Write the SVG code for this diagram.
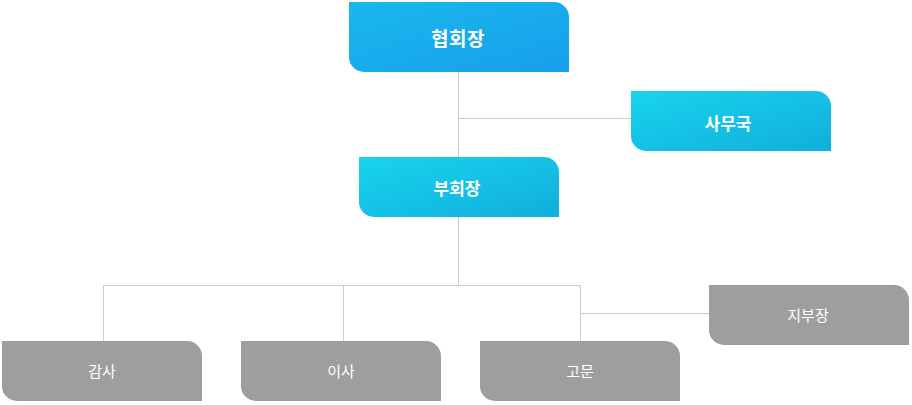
<svg xmlns="http://www.w3.org/2000/svg" width="912" height="405" viewBox="0 0 912 405">
<defs>
<linearGradient id="gA" x1="0" y1="0" x2="1" y2="1">
<stop offset="0" stop-color="#19b8ec"/>
<stop offset="1" stop-color="#179fec"/>
</linearGradient>
<linearGradient id="gB" x1="0" y1="0" x2="1" y2="1">
<stop offset="0" stop-color="#18d4ee"/>
<stop offset="1" stop-color="#11aedb"/>
</linearGradient>
<style>
.t{font-family:"Noto Sans CJK KR","Noto Sans",sans-serif;fill:#fff;text-anchor:middle;dominant-baseline:central}
.a{font-size:19px;font-weight:bold;letter-spacing:0.5px}
.b{font-size:17px;font-weight:bold}
.n{font-size:15px;font-weight:400}
.g{fill:#9e9e9e}
.c{stroke:#cccccc;stroke-width:1;fill:none}
</style>
</defs>
<g id="connectors">
<path class="c" d="M458.5 72V157M458.5 118.5H631M458.5 217V285.5M103.5 285.5H580.5M103.5 285V341M343.5 285V341M580.5 285V341M580.5 313.5H709"/>
</g>
<g id="n1"><path d="M349 2H554A15 15 0 0 1 569 17V72H364A15 15 0 0 1 349 57Z" fill="url(#gA)"/><text class="t a" x="458" y="37">협회장</text></g>
<g id="n2"><path d="M631 91H816A15 15 0 0 1 831 106V151H646A15 15 0 0 1 631 136Z" fill="url(#gB)"/><text class="t b" x="728" y="122">사무국</text></g>
<g id="n3"><path d="M359 157H544A15 15 0 0 1 559 172V217H374A15 15 0 0 1 359 202Z" fill="url(#gB)"/><text class="t b" x="457" y="187">부회장</text></g>
<g id="n4"><path class="g" d="M2 341H187A15 15 0 0 1 202 356V401H17A15 15 0 0 1 2 386Z"/><text class="t n" x="102" y="370">감사</text></g>
<g id="n5"><path class="g" d="M241 341H426A15 15 0 0 1 441 356V401H256A15 15 0 0 1 241 386Z"/><text class="t n" x="341" y="370">이사</text></g>
<g id="n6"><path class="g" d="M480 341H665A15 15 0 0 1 680 356V401H495A15 15 0 0 1 480 386Z"/><text class="t n" x="580" y="370">고문</text></g>
<g id="n7"><path class="g" d="M709 285H894A15 15 0 0 1 909 300V345H724A15 15 0 0 1 709 330Z"/><text class="t n" x="808" y="314">지부장</text></g>
</svg>
